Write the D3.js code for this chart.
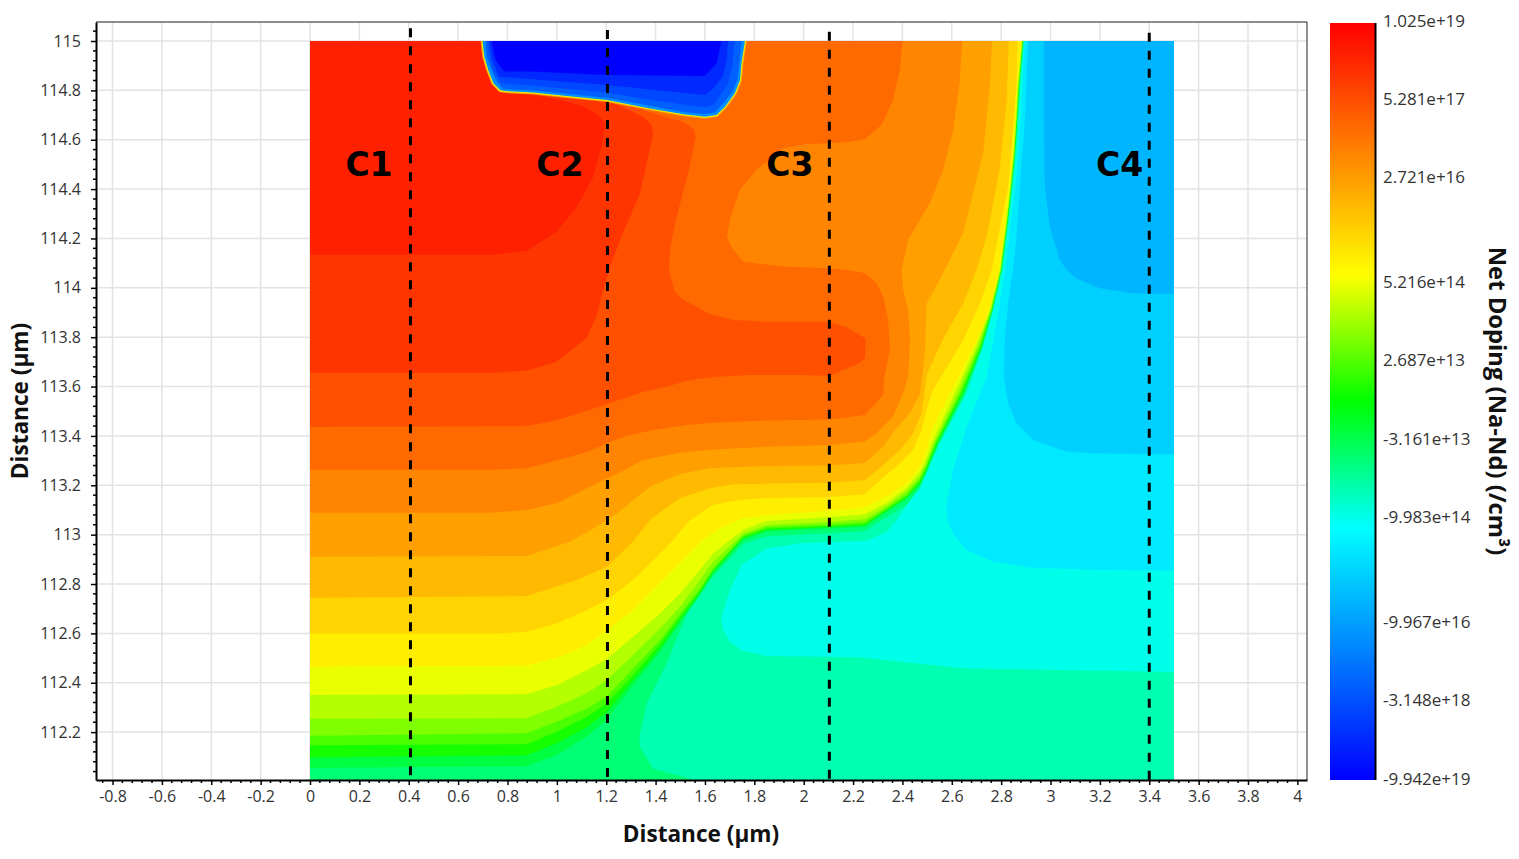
<!DOCTYPE html>
<html>
<head>
<meta charset="utf-8" />
<title>Net Doping</title>
<script src="https://cdn.jsdelivr.net/npm/d3@7"></script>
<style>
	body, html { margin: 0; background: #fff; }
	text { font-family: "Open Sans", sans-serif; fill: #333; }
	.title { font-weight: 700; fill: #111; }
	.cell { font-family: "DejaVu Sans", sans-serif; font-weight: 700; fill: #000; }
</style>
</head>
<body>
<svg id="chart" width="1519" height="859"></svg>
<script>
// tick labels
var xTicks = [-0.8,-0.6,-0.4,-0.2,0,0.2,0.4,0.6,0.8,1,1.2,1.4,1.6,1.8,2,2.2,2.4,2.6,2.8,3,3.2,3.4,3.6,3.8,4];
var yTicks = [112.2,112.4,112.6,112.8,113,113.2,113.4,113.6,113.8,114,114.2,114.4,114.6,114.8,115];

// colour bar
var legendLabels = ["1.025e+19","5.281e+17","2.721e+16","5.216e+14","2.687e+13","-3.161e+13","-9.983e+14","-9.967e+16","-3.148e+18","-9.942e+19"];
var legendStops = [0,0.103,0.206,0.344,0.447,0.551,0.654,0.793,0.896,1];

// section cuts
var cutNames = ["C1","C2","C3","C4"];
var cutNameX = [0.239,1.012,1.944,3.28];
var cutX = [0.407,1.205,2.104,3.4];
var cutTop = [115.052,115.045,115.037,115.033];
var cutBottom = [112.025,112.018,112.01,112.006];

// iso-doping contours, [distance, depth] in um, p side, low to high
var p00ff75 = [[0,112],[1.58,112],[1.39,112.052],[1.337,112.14],[1.334,112.181],[1.364,112.316],[1.445,112.478],[1.499,112.613],[1.552,112.735],[1.633,112.829],[1.755,112.962],[1.85,112.994],[2.106,113.006],[2.248,113.015],[2.336,113.072],[2.417,113.12],[2.471,113.189],[2.498,113.254],[2.549,113.371],[2.655,113.574],[2.724,113.76],[2.766,113.91],[2.802,114.072],[2.828,114.275],[2.843,114.408],[2.857,114.546],[2.866,114.68],[2.874,114.814],[2.891,115]];
var p00ff40 = [[0,112.055],[0.878,112.062],[0.999,112.107],[1.121,112.181],[1.202,112.251],[1.309,112.39],[1.418,112.525],[1.499,112.643],[1.58,112.755],[1.633,112.84],[1.755,112.978],[1.85,113.013],[2.106,113.025],[2.248,113.031],[2.336,113.092],[2.417,113.144],[2.471,113.201],[2.498,113.258],[2.545,113.371],[2.649,113.574],[2.722,113.76],[2.765,113.91],[2.801,114.072],[2.827,114.275],[2.842,114.408],[2.856,114.546],[2.865,114.68],[2.873,114.814],[2.889,115]];
var p16ff00 = [[0,112.098],[0.878,112.106],[0.999,112.155],[1.121,112.22],[1.202,112.282],[1.309,112.411],[1.418,112.539],[1.499,112.654],[1.58,112.765],[1.633,112.85],[1.755,112.984],[1.85,113.019],[2.106,113.031],[2.248,113.037],[2.336,113.097],[2.417,113.15],[2.471,113.209],[2.498,113.266],[2.541,113.371],[2.645,113.574],[2.72,113.76],[2.763,113.91],[2.8,114.072],[2.826,114.275],[2.841,114.408],[2.855,114.546],[2.864,114.68],[2.872,114.814],[2.888,115]];
var p4bff00 = [[0,112.147],[0.878,112.151],[0.999,112.201],[1.121,112.262],[1.202,112.316],[1.309,112.431],[1.418,112.557],[1.499,112.665],[1.58,112.773],[1.633,112.856],[1.755,112.99],[1.85,113.025],[2.106,113.035],[2.248,113.043],[2.336,113.102],[2.417,113.156],[2.471,113.217],[2.498,113.274],[2.537,113.371],[2.639,113.574],[2.716,113.76],[2.762,113.91],[2.799,114.072],[2.825,114.275],[2.84,114.408],[2.854,114.546],[2.863,114.68],[2.871,114.814],[2.887,115]];
var p80ff00 = [[0,112.185],[0.878,112.195],[0.999,112.242],[1.121,112.296],[1.202,112.343],[1.309,112.458],[1.418,112.573],[1.499,112.681],[1.58,112.782],[1.633,112.863],[1.755,112.998],[1.85,113.031],[2.106,113.041],[2.248,113.051],[2.336,113.108],[2.417,113.165],[2.471,113.225],[2.498,113.282],[2.533,113.371],[2.633,113.574],[2.711,113.76],[2.76,113.91],[2.798,114.072],[2.824,114.275],[2.839,114.408],[2.853,114.546],[2.862,114.68],[2.87,114.814],[2.886,115]];
var pb4ff00 = [[0,112.254],[0.878,112.256],[0.999,112.303],[1.121,112.357],[1.202,112.411],[1.309,112.512],[1.418,112.62],[1.499,112.708],[1.58,112.816],[1.633,112.89],[1.755,113.005],[1.85,113.039],[2.106,113.051],[2.248,113.063],[2.336,113.116],[2.417,113.177],[2.471,113.237],[2.498,113.294],[2.527,113.371],[2.624,113.574],[2.705,113.76],[2.758,113.91],[2.797,114.072],[2.823,114.275],[2.838,114.408],[2.852,114.546],[2.861,114.68],[2.869,114.814],[2.885,115]];
var peaff00 = [[0,112.35],[0.878,112.354],[0.999,112.39],[1.121,112.451],[1.202,112.495],[1.309,112.586],[1.418,112.681],[1.499,112.762],[1.58,112.857],[1.633,112.924],[1.755,113.019],[1.85,113.055],[2.106,113.071],[2.248,113.083],[2.336,113.128],[2.417,113.189],[2.471,113.254],[2.498,113.31],[2.519,113.371],[2.612,113.574],[2.697,113.76],[2.754,113.91],[2.795,114.072],[2.821,114.275],[2.836,114.408],[2.85,114.546],[2.859,114.68],[2.867,114.814],[2.884,115]];
var pffee00 = [[0,112.465],[0.878,112.469],[1.013,112.505],[1.121,112.553],[1.202,112.613],[1.309,112.694],[1.418,112.803],[1.498,112.884],[1.593,112.978],[1.66,113.025],[1.754,113.066],[1.85,113.079],[2.106,113.097],[2.248,113.111],[2.336,113.154],[2.417,113.208],[2.471,113.275],[2.498,113.343],[2.524,113.437],[2.66,113.707],[2.727,113.842],[2.781,114.018],[2.79,114.072],[2.816,114.275],[2.831,114.408],[2.845,114.546],[2.854,114.68],[2.862,114.814],[2.882,115]];
var pffd400 = [[0,112.6],[0.77,112.6],[0.878,112.607],[0.999,112.64],[1.121,112.694],[1.202,112.735],[1.309,112.816],[1.418,112.924],[1.471,112.978],[1.539,113.059],[1.58,113.086],[1.633,113.12],[1.714,113.137],[1.85,113.149],[2.106,113.153],[2.248,113.164],[2.309,113.221],[2.376,113.275],[2.443,113.343],[2.477,113.424],[2.498,113.505],[2.524,113.586],[2.565,113.654],[2.646,113.788],[2.714,113.937],[2.761,114.072],[2.828,114.41],[2.862,114.815],[2.866,115]];
var pffb900 = [[0,112.744],[0.878,112.751],[0.972,112.782],[1.08,112.816],[1.202,112.87],[1.308,112.971],[1.377,113.059],[1.43,113.1],[1.498,113.147],[1.62,113.188],[1.713,113.204],[1.904,113.208],[2.106,113.21],[2.248,113.221],[2.322,113.282],[2.39,113.343],[2.443,113.41],[2.477,113.491],[2.498,113.647],[2.565,113.795],[2.646,113.937],[2.7,114.072],[2.741,114.207],[2.795,114.491],[2.822,114.761],[2.831,115]];
var pff9f00 = [[0,112.91],[0.878,112.914],[1.053,112.971],[1.147,113.025],[1.202,113.059],[1.243,113.086],[1.377,113.194],[1.498,113.246],[1.62,113.269],[1.782,113.276],[2.106,113.281],[2.248,113.29],[2.322,113.356],[2.369,113.423],[2.43,113.491],[2.471,113.572],[2.491,113.734],[2.498,113.937],[2.572,114.072],[2.646,114.221],[2.727,114.545],[2.754,114.815],[2.763,115]];
var pff8500 = [[0,113.089],[0.742,113.089],[0.878,113.1],[0.999,113.127],[1.121,113.188],[1.202,113.228],[1.243,113.246],[1.35,113.302],[1.498,113.332],[1.647,113.346],[1.85,113.356],[2.106,113.363],[2.248,113.377],[2.295,113.411],[2.362,113.478],[2.403,113.573],[2.423,113.641],[2.431,113.789],[2.423,113.911],[2.403,113.992],[2.396,114.073],[2.423,114.195],[2.511,114.344],[2.565,114.478],[2.606,114.64],[2.633,114.842],[2.642,115]];
var pff6a00 = [[0,113.263],[0.742,113.263],[0.878,113.269],[0.999,113.3],[1.121,113.335],[1.202,113.37],[1.283,113.401],[1.391,113.424],[1.526,113.444],[1.647,113.454],[1.782,113.459],[1.85,113.462],[2.106,113.467],[2.248,113.485],[2.322,113.566],[2.325,113.627],[2.349,113.749],[2.342,113.871],[2.322,113.966],[2.295,114.02],[2.248,114.06],[2.174,114.072],[2.103,114.079],[1.916,114.086],[1.754,114.106],[1.706,114.167],[1.689,114.207],[1.701,114.275],[1.741,114.397],[1.809,114.478],[1.916,114.566],[2.011,114.583],[2.103,114.586],[2.174,114.59],[2.248,114.603],[2.315,114.66],[2.362,114.761],[2.389,114.883],[2.4,115]];
var pff5000 = [[0,113.436],[0.878,113.44],[0.999,113.464],[1.121,113.502],[1.202,113.528],[1.35,113.579],[1.445,113.599],[1.526,113.624],[1.647,113.64],[1.782,113.647],[1.985,113.647],[2.106,113.644],[2.228,113.696],[2.248,113.718],[2.251,113.795],[2.174,113.84],[2.106,113.863],[1.85,113.863],[1.714,113.87],[1.62,113.894],[1.505,113.957],[1.478,113.984],[1.454,114.072],[1.458,114.153],[1.485,114.288],[1.532,114.464],[1.563,114.612],[1.552,114.646],[1.512,114.673],[1.445,114.691],[1.308,114.734]];
var pff3500 = [[0,113.656],[0.742,113.656],[0.878,113.664],[0.999,113.701],[1.121,113.798],[1.165,113.897],[1.175,113.944],[1.208,114.064],[1.256,114.194],[1.337,114.383],[1.39,114.619],[1.384,114.66],[1.35,114.693],[1.256,114.737],[1.202,114.761]];
var pff2000 = [[0,114.134],[0.742,114.134],[0.878,114.15],[0.999,114.227],[1.08,114.327],[1.147,114.449],[1.181,114.572],[1.195,114.667],[1.168,114.7],[1.107,114.737],[1.013,114.761],[0.904,114.781]];

// n side, right of the junction
var n00ffea = [[3.5,112.444],[2.66,112.458],[2.39,112.485],[2.228,112.503],[1.85,112.508],[1.748,112.532],[1.701,112.566],[1.674,112.613],[1.667,112.667],[1.701,112.775],[1.748,112.877],[1.85,112.944],[1.985,112.965],[2.255,112.975],[2.336,113.012],[2.376,113.059],[2.43,113.14],[2.498,113.248],[2.552,113.37],[2.66,113.572],[2.727,113.761],[2.767,113.91],[2.807,114.072],[2.832,114.275],[2.848,114.408],[2.862,114.546],[2.871,114.68],[2.879,114.814],[2.892,115]];
var n00eaff = [[3.5,112.854],[3.2,112.857],[2.93,112.866],[2.767,112.89],[2.66,112.938],[2.605,113.005],[2.581,113.059],[2.579,113.127],[2.605,113.262],[2.66,113.437],[2.741,113.64],[2.788,113.897],[2.815,114.072],[2.84,114.275],[2.856,114.408],[2.87,114.546],[2.878,114.68],[2.886,114.814],[2.896,115]];
var n00d0ff = [[3.5,113.325],[3.2,113.329],[3.065,113.336],[2.93,113.383],[2.862,113.451],[2.828,113.532],[2.811,113.64],[2.815,113.802],[2.828,113.937],[2.848,114.072],[2.862,114.207],[2.896,114.68],[2.909,115]];
var n00b5ff = [[3.5,113.975],[3.334,113.978],[3.2,113.998],[3.105,114.038],[3.065,114.072],[3.038,114.113],[2.997,114.248],[2.977,114.41],[2.973,114.68],[2.973,115]];

// n+ island at the surface, outside to inside
var islandEdge = [[0.699,115],[0.706,114.937],[0.722,114.883],[0.743,114.829],[0.77,114.801],[0.79,114.797],[0.905,114.791],[1.04,114.777],[1.202,114.761],[1.377,114.727],[1.512,114.703],[1.6,114.693],[1.647,114.7],[1.681,114.734],[1.721,114.788],[1.742,114.842],[1.748,114.91],[1.762,115]];
var island1 = [[0.71,115],[0.716,114.937],[0.736,114.883],[0.756,114.835],[0.783,114.806],[0.905,114.799],[1.202,114.77],[1.512,114.712],[1.6,114.703],[1.64,114.71],[1.674,114.747],[1.712,114.795],[1.731,114.842],[1.739,114.91],[1.748,115]];
var island2 = [[0.718,115],[0.729,114.923],[0.749,114.869],[0.776,114.829],[0.905,114.819],[1.202,114.791],[1.377,114.761],[1.6,114.731],[1.634,114.741],[1.663,114.781],[1.694,114.829],[1.71,114.896],[1.721,115]];
var island3 = [[0.726,115],[0.74,114.923],[0.766,114.855],[0.905,114.845],[1.202,114.822],[1.6,114.781],[1.634,114.808],[1.671,114.855],[1.688,114.923],[1.694,115]];
var island4 = [[0.736,115],[0.752,114.923],[0.786,114.876],[0.905,114.876],[1.202,114.862],[1.6,114.858],[1.647,114.91],[1.667,115]];

var svg = d3.select("#chart");
var left = 96, right = 1307, top_ = 22, bottom = 780;

var x = d3.scaleLinear().domain([-0.867, 4.039]).range([left, right]);
var y = d3.scaleLinear().domain([112.006, 115.077]).range([bottom, top_]);

var line = d3.line().x(function(d) { return x(d[0]); }).y(function(d) { return y(d[1]); });

// grid
svg.append("g").selectAll("line").data(xTicks).enter().append("line")
	.attr("x1", x).attr("x2", x).attr("y1", top_).attr("y2", bottom)
	.attr("stroke", "#e3e3e3").attr("stroke-width", 1.5);
svg.append("g").selectAll("line").data(yTicks).enter().append("line")
	.attr("y1", y).attr("y2", y).attr("x1", left).attr("x2", right)
	.attr("stroke", "#e3e3e3").attr("stroke-width", 1.5);

// map
svg.append("clipPath").attr("id", "dev").append("rect")
	.attr("x", x(0)).attr("y", y(115))
	.attr("width", x(3.5) - x(0)).attr("height", y(112.006) - y(115));

var map = svg.append("g").attr("clip-path", "url(#dev)");

map.append("rect").attr("x", x(0)).attr("y", y(115))
	.attr("width", x(3.5) - x(0)).attr("height", y(112.006) - y(115))
	.attr("fill", "#00ffb0");

var nBands = [n00ffea, n00eaff, n00d0ff, n00b5ff];
var nColors = ["#00ffea", "#00eaff", "#00d0ff", "#00b5ff"];
nBands.forEach(function(b, i) {
	map.append("path").attr("d", line(b.concat([[3.5, 115]])) + "Z").attr("fill", nColors[i]);
});

var pBands = [p00ff75, p00ff40, p16ff00, p4bff00, p80ff00, pb4ff00, peaff00, pffee00, pffd400, pffb900, pff9f00, pff8500, pff6a00, pff5000, pff3500, pff2000];
var pColors = ["#00ff75", "#00ff40", "#16ff00", "#4bff00", "#80ff00", "#b4ff00", "#eaff00", "#ffee00", "#ffd400", "#ffb900", "#ff9f00", "#ff8500", "#ff6a00", "#ff5000", "#ff3500", "#ff2000"];
pBands.forEach(function(b, i) {
	var last = b[b.length - 1];
	map.append("path").attr("d", line([[0, 115]].concat(b, [[last[0], 115]])) + "Z").attr("fill", pColors[i]);
});

// island rim then the nested blues
map.append("path").attr("d", line(islandEdge)).attr("fill", "none").attr("stroke", "#ff9f00").attr("stroke-width", 4);
map.append("path").attr("d", line(islandEdge)).attr("fill", "none").attr("stroke", "#f4f000").attr("stroke-width", 2);
var islands = [islandEdge, island1, island2, island3, island4];
var islandColors = ["#0090ff", "#0060ff", "#0048ff", "#0028ff", "#0000ff"];
islands.forEach(function(b, i) {
	map.append("path").attr("d", line(b) + "Z").attr("fill", islandColors[i]);
});

// frame
svg.append("line").attr("x1", left).attr("x2", right).attr("y1", top_).attr("y2", top_).attr("stroke", "#666").attr("stroke-width", 1.5);
svg.append("line").attr("x1", right).attr("x2", right).attr("y1", top_).attr("y2", bottom).attr("stroke", "#222").attr("stroke-width", 1);

// axes
var xAxis = svg.append("g").attr("transform", "translate(0," + bottom + ")")
	.call(d3.axisBottom(x).tickValues(xTicks).tickSize(5).tickSizeOuter(0).tickPadding(6).tickFormat(function(d) { return String(d); }));
var yAxis = svg.append("g").attr("transform", "translate(" + left + ",0)")
	.call(d3.axisLeft(y).tickValues(yTicks).tickSize(5).tickSizeOuter(0).tickPadding(10).tickFormat(function(d) { return String(d); }));

[xAxis, yAxis].forEach(function(a) {
	a.select(".domain").attr("stroke", "#000").attr("stroke-width", 2);
	a.selectAll(".tick line").attr("stroke", "#000").attr("stroke-width", 1.5);
	a.selectAll("text").attr("font-family", null).style("font-size", "16px").style("fill", "#333");
});

var xMinor = d3.range(-0.84, 4.04, 0.04).filter(function(d) { return Math.abs(d / 0.2 - Math.round(d / 0.2)) > 0.01; });
var yMinor = d3.range(112.04, 115.08, 0.04).filter(function(d) { return Math.abs((d - 112) / 0.2 - Math.round((d - 112) / 0.2)) > 0.01; });
xAxis.selectAll(".minor").data(xMinor).enter().append("line").attr("class", "minor")
	.attr("x1", x).attr("x2", x).attr("y1", 0).attr("y2", 3).attr("stroke", "#000").attr("stroke-width", 1.5);
yAxis.selectAll(".minor").data(yMinor).enter().append("line").attr("class", "minor")
	.attr("y1", y).attr("y2", y).attr("x1", 0).attr("x2", -3).attr("stroke", "#000").attr("stroke-width", 1.5);

svg.append("text").attr("class", "title").attr("x", 701).attr("y", 842)
	.attr("text-anchor", "middle").style("font-size", "22.6px").text("Distance (µm)");
svg.append("text").attr("class", "title").attr("transform", "translate(28,401) rotate(-90)")
	.attr("text-anchor", "middle").style("font-size", "22.6px").text("Distance (µm)");

// section cuts
svg.append("g").selectAll("line").data(cutX).enter().append("line")
	.attr("x1", x).attr("x2", x)
	.attr("y1", function(d, i) { return y(cutTop[i]); })
	.attr("y2", function(d, i) { return y(cutBottom[i]); })
	.attr("stroke", "#000").attr("stroke-width", 3).attr("stroke-dasharray", "9 9");

svg.append("g").selectAll("text").data(cutNames).enter().append("text")
	.attr("class", "cell").attr("x", function(d, i) { return x(cutNameX[i]); }).attr("y", y(114.453))
	.attr("text-anchor", "middle").style("font-size", "33px").text(function(d) { return d; });

// colour bar
var barTop = 23, barBottom = 780, barLeft = 1330, barRight = 1375;
var grad = svg.append("defs").append("linearGradient").attr("id", "rainbow")
	.attr("x1", 0).attr("x2", 0).attr("y1", 0).attr("y2", 1);
var rampOffsets = [0, 1 / 3, 1 / 2, 2 / 3, 1];
var rampColors = ["#ff0000", "#ffff00", "#00ff00", "#00ffff", "#0000ff"];
rampOffsets.forEach(function(o, i) {
	grad.append("stop").attr("offset", o).attr("stop-color", rampColors[i]);
});
svg.append("rect").attr("x", barLeft).attr("y", barTop).attr("width", barRight - barLeft)
	.attr("height", barBottom - barTop).attr("fill", "url(#rainbow)");
svg.append("line").attr("x1", barRight + 0.5).attr("x2", barRight + 0.5).attr("y1", barTop).attr("y2", barBottom)
	.attr("stroke", "#000").attr("stroke-width", 2);

var legendY = d3.scaleLinear().domain([0, 1]).range([21, 779]);
svg.append("g").selectAll("text").data(legendLabels).enter().append("text")
	.attr("x", 1383).attr("y", function(d, i) { return legendY(legendStops[i]); })
	.attr("dy", "0.35em").style("font-size", "17px").text(function(d) { return d; });

svg.append("text").attr("class", "title").attr("transform", "translate(1489,401) rotate(90)")
	.attr("text-anchor", "middle").style("font-size", "23.8px").text("Net Doping (Na-Nd) (/cm³)");
</script>
</body>
</html>
